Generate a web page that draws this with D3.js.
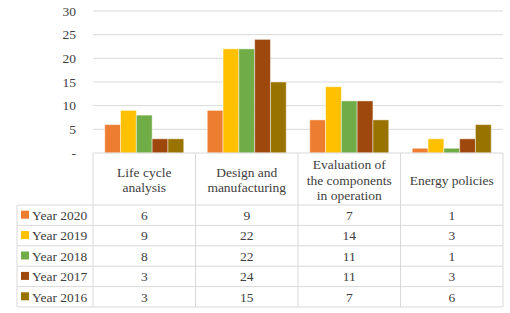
<!DOCTYPE html>
<html lang="en">
<head>
  <meta charset="UTF-8">
  <title>Chart</title>
  <script src="https://d3js.org/d3.v7.min.js"></script>
  <style>
    body { margin: 0; background: #fff; }
  </style>
</head>
<body>
  <svg width="510" height="313" font-family="Liberation Serif, DejaVu Serif, serif" fill="#404040"></svg>
  <script>
    const categories = [
      ["Life cycle", "analysis"],
      ["Design and", "manufacturing"],
      ["Evaluation of", "the components", "in operation"],
      ["Energy policies"]
    ]
    const seriesNames = ["Year 2020", "Year 2019", "Year 2018", "Year 2017", "Year 2016"]
    const values = [
      [6, 9, 7, 1],
      [9, 22, 14, 3],
      [8, 22, 11, 1],
      [3, 24, 11, 3],
      [3, 15, 7, 6]
    ]
    const yTicks = [0, 5, 10, 15, 20, 25, 30]
    const colors = ["#ED7D31", "#FFC000", "#70AD47", "#9E480E", "#997300"]

    const svg = d3.select("svg")
    const plotLeft = 93, plotRight = 503, plotTop = 11, plotBottom = 153
    const headerBottom = 205, rowH = 20.4, legendLeft = 17
    const gridColor = "#d9d9d9"
    const fs = 13.5

    const x = d3.scaleBand().domain(d3.range(categories.length)).range([plotLeft, plotRight]).padding(0)
    const xs = d3.scaleBand().domain(d3.range(seriesNames.length)).range([0, x.bandwidth()])
      .paddingInner(0).paddingOuter(0.745)
    const y = d3.scaleLinear().domain([0, 30]).range([plotBottom, plotTop])

    // gridlines
    svg.append("g").selectAll("line").data(yTicks.slice(1)).join("line")
      .attr("x1", plotLeft).attr("x2", plotRight)
      .attr("y1", d => y(d)).attr("y2", d => y(d))
      .attr("stroke", gridColor).attr("stroke-width", 1)

    // y labels
    svg.append("g").selectAll("text").data(yTicks).join("text")
      .attr("x", 76).attr("y", d => y(d)).attr("dy", "0.35em")
      .attr("text-anchor", "end").attr("font-size", fs)
      .text(d => d === 0 ? "-" : d)

    // bars
    const groups = svg.append("g").selectAll("g").data(values).join("g")
      .attr("fill", (d, i) => colors[i])
    groups.each(function (row, si) {
      d3.select(this).selectAll("rect").data(row).join("rect")
        .attr("x", (v, ci) => x(ci) + xs(si))
        .attr("width", xs.bandwidth())
        .attr("y", v => y(v))
        .attr("height", v => y(0) - y(v))
        .attr("stroke", "#fff").attr("stroke-opacity", 0.45).attr("stroke-width", 1)
    })

    // table lines
    const tableBottom = headerBottom + rowH * seriesNames.length
    const lines = svg.append("g").attr("stroke", gridColor).attr("stroke-width", 1)
    lines.append("line").attr("x1", plotLeft).attr("x2", plotRight).attr("y1", plotBottom).attr("y2", plotBottom)
    d3.range(seriesNames.length + 1).forEach(i => {
      lines.append("line").attr("x1", legendLeft).attr("x2", plotRight)
        .attr("y1", headerBottom + i * rowH).attr("y2", headerBottom + i * rowH)
    })
    d3.range(categories.length + 1).forEach(i => {
      const xx = i < categories.length ? x(i) : plotRight
      lines.append("line").attr("x1", xx).attr("x2", xx).attr("y1", plotBottom).attr("y2", tableBottom)
    })
    lines.append("line").attr("x1", legendLeft).attr("x2", legendLeft).attr("y1", headerBottom).attr("y2", tableBottom)

    // header text
    svg.append("g").selectAll("text").data(categories).join("text")
      .attr("text-anchor", "middle").attr("font-size", fs)
      .attr("x", (d, i) => x(i) + x.bandwidth() / 2)
      .each(function (d) {
        const t = d3.select(this)
        const lh = 15.5
        const y0 = (plotBottom + headerBottom) / 2 - (d.length - 1) * lh / 2 + 1
        d.forEach((s, k) => {
          t.append("tspan").attr("x", t.attr("x")).attr("y", y0 + k * lh).attr("dy", "0.35em").text(s)
        })
      })

    // rows
    const rows = svg.append("g").selectAll("g").data(values).join("g")
      .attr("transform", (d, i) => `translate(0,${headerBottom + i * rowH + rowH / 2})`)
    rows.append("rect").attr("x", 21).attr("y", -4.5).attr("width", 8).attr("height", 8)
      .attr("fill", (d, i) => colors[i])
    rows.append("text").attr("x", 32).attr("dy", "0.35em").attr("font-size", fs)
      .text((d, i) => seriesNames[i])
    rows.selectAll("text.v").data(d => d).join("text").attr("class", "v")
      .attr("x", (v, ci) => x(ci) + x.bandwidth() / 2).attr("dy", "0.35em")
      .attr("text-anchor", "middle").attr("font-size", fs)
      .text(v => v)
  </script>
</body>
</html>
